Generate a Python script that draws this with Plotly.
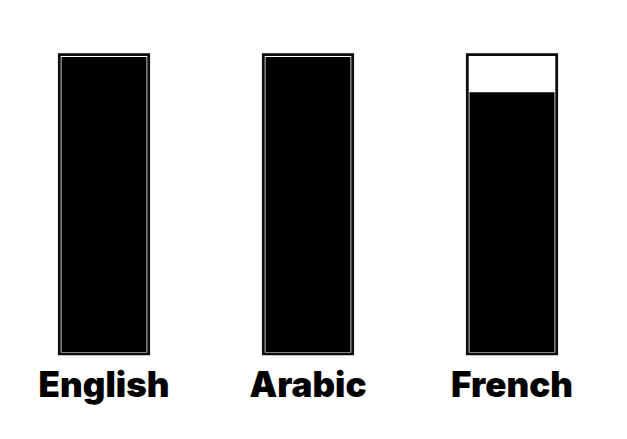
import plotly.graph_objects as go

languages = ["English", "Arabic", "French"]
values = [100, 100, 88]
capacity = [100, 100, 100]

PAD_TOP = 0.75
PAD_BOT = 0.6

fig = go.Figure()
# outer frame (full capacity)
fig.add_trace(go.Bar(
    x=languages, y=[c + PAD_TOP + PAD_BOT for c in capacity],
    base=[-PAD_BOT] * len(capacity),
    width=0.438,
    marker=dict(color="white", line=dict(color="#0d0d0d", width=2.8)),
    hoverinfo="skip", showlegend=False,
))
# fill
fig.add_trace(go.Bar(
    x=languages, y=values,
    width=0.417,
    marker=dict(color="black", line=dict(width=0)),
    showlegend=False,
))

fig.update_layout(
    barmode="overlay",
    width=627, height=439,
    margin=dict(l=2, r=13, t=51, b=81, pad=0),
    paper_bgcolor="white", plot_bgcolor="white",
    xaxis=dict(range=[-0.5, 2.5], showgrid=False, zeroline=False, showline=False,
               ticks="", ticklabelstandoff=3,
               tickfont=dict(family="Inter", size=35, color="black", weight=900)),
    yaxis=dict(range=[-2, 102], visible=False),
)
fig.write_html("out.html")
